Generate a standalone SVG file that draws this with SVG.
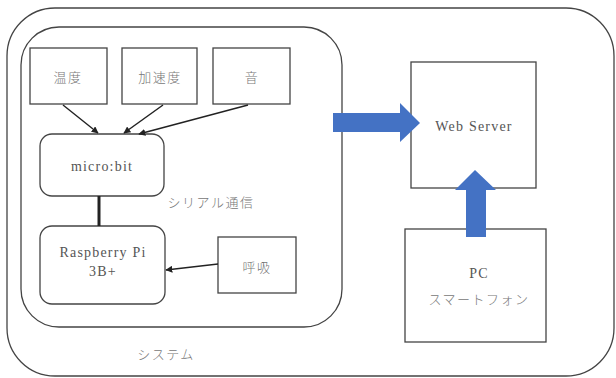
<svg xmlns="http://www.w3.org/2000/svg" width="616" height="378" viewBox="0 0 616 378">
<defs>
<style>
.frame{fill:none;stroke:#444;stroke-width:1.3}
.box{fill:#fff;stroke:#444;stroke-width:1.3}
.t{font-family:"Liberation Serif","Noto Sans CJK JP",serif;font-size:14px;fill:#555;text-anchor:middle;dominant-baseline:central;letter-spacing:1.2px}
.j{font-family:"Noto Sans CJK JP","Liberation Serif",sans-serif;font-size:13px;fill:#777;text-anchor:middle;dominant-baseline:central;letter-spacing:1.5px;font-weight:300}
.c{stroke:#222;stroke-width:1.5;fill:none;marker-end:url(#ah)}
.blue{fill:#4472C4}
</style>
<marker id="ah" viewBox="0 0 10 10" refX="9" refY="5" markerWidth="7" markerHeight="7" orient="auto" markerUnits="userSpaceOnUse">
<path d="M0,0 L10,5 L0,10 z" fill="#222"/>
</marker>
</defs>
<rect fill="#fff" width="616" height="378"/>
<g id="system">
<rect class="frame" x="7" y="8" width="607" height="368" rx="48"/>
<text class="j" x="166" y="353">システム</text>
</g>
<g id="device-group">
<rect class="frame" x="21" y="27" width="321" height="300" rx="38"/>
<text class="j" x="211" y="201">シリアル通信</text>
</g>
<g id="temp"><rect class="box" x="30" y="48" width="77" height="56"/><text class="j" x="68" y="76">温度</text></g>
<g id="accel"><rect class="box" x="122" y="48" width="75" height="56"/><text class="j" x="160" y="76">加速度</text></g>
<g id="sound"><rect class="box" x="213" y="48" width="77" height="56"/><text class="j" x="252" y="76">音</text></g>
<g id="microbit"><rect class="box" x="40" y="134" width="124" height="62" rx="12"/><text class="t" x="102" y="166">micro:bit</text></g>
<g id="raspi"><rect class="box" x="40" y="226" width="125" height="78" rx="12"/><text class="t" x="103" y="252">Raspberry Pi</text><text class="t" x="103" y="271">3B+</text></g>
<g id="breath"><rect class="box" x="218" y="237" width="78" height="56"/><text class="j" x="257" y="266">呼吸</text></g>
<g id="webserver"><rect class="box" x="411" y="62" width="125" height="126"/><text class="t" x="474" y="126">Web Server</text></g>
<g id="pc"><rect class="box" x="405" y="229" width="141" height="113"/><text class="t" x="479" y="273">PC</text><text class="j" x="479" y="298">スマートフォン</text></g>
<g id="connectors">
<line class="c" x1="63" y1="105" x2="98" y2="133"/>
<line class="c" x1="163" y1="105" x2="124" y2="133"/>
<line class="c" x1="248" y1="105" x2="139" y2="134"/>
<line x1="99" y1="196" x2="99" y2="226" stroke="#222" stroke-width="3"/>
<line class="c" x1="218" y1="264" x2="166" y2="270"/>
<polygon class="blue" points="333,113 400,113 400,103 420,123 400,142 400,132 333,132"/>
<polygon class="blue" points="466,237 466,190 455,190 475,170 496,190 486,190 486,237"/>
</g>
</svg>
